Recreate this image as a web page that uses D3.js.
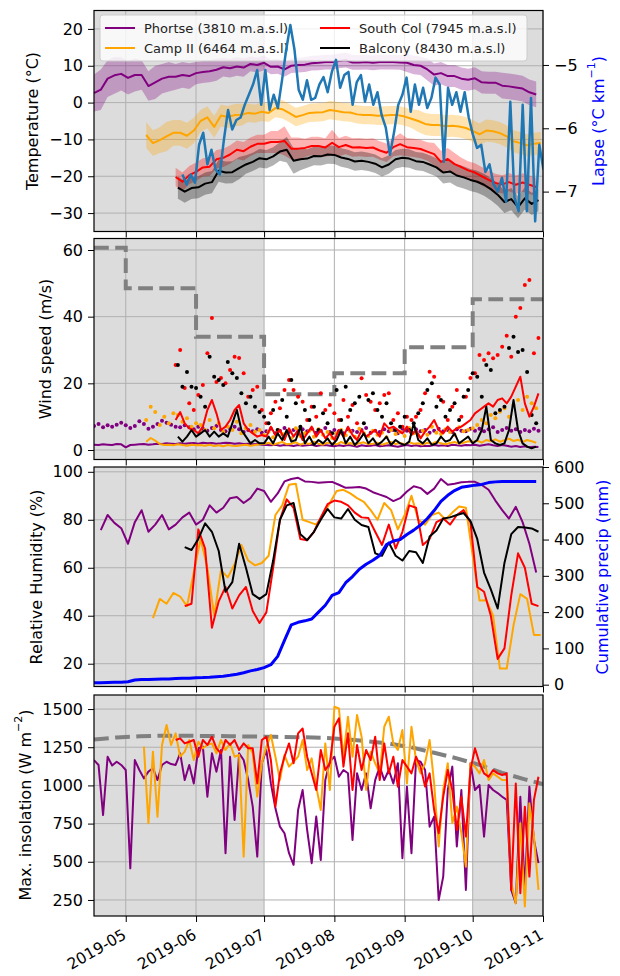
<!DOCTYPE html>
<html>
<head>
<meta charset="utf-8">
<script src="https://cdn.jsdelivr.net/npm/d3@7"></script>
<style>
  body { margin: 0; background: #fff; }
  svg { font-family: "DejaVu Sans", sans-serif; }
</style>
</head>
<body>
<svg id="chart" width="620" height="976"></svg>
<script>
// ---- time base: day offsets are counted from 2019-04-17 ----
var BASE = new Date(2019, 3, 17);
function at(day) { return new Date(BASE.getTime() + day * 864e5); }

var monthTicks = [new Date(2019,4,1), new Date(2019,5,1), new Date(2019,6,1), new Date(2019,7,1),
                  new Date(2019,8,1), new Date(2019,9,1), new Date(2019,10,1)];
var monthLabels = ["2019-05", "2019-06", "2019-07", "2019-08", "2019-09", "2019-10", "2019-11"];
var shadeSpans = [[at(0), new Date(2019,6,1)], [new Date(2019,9,1), new Date(2019,10,1)]];

var stations = ["Phortse (3810 m.a.s.l)", "Camp II (6464 m.a.s.l)", "South Col (7945 m.a.s.l)", "Balcony (8430 m.a.s.l)"];
var stationColors = ["#800080", "#ffa500", "#ff0000", "#000000"];

// ---- panel 1: daily mean temperature (every 3 days) and spread ----
var tempPhortse = [2.6,3.5,6.5,7.4,7.8,6.7,7.5,7.5,4.5,5.5, 6.5,7.0,7.0,7.5,7.2,8.0,8.3,8.5,8.9,9.6,
  9.3,9.8,9.5,10.5,10.2,10.8,9.7,9.8,9.0,10.0, 10.2,10.3,10.7,10.8,11.0,11.0,11.3,11.5,10.9,10.9,
  11.0,10.8,11.0,11.0,11.0,10.9,10.8,10.2,10.0,9.0, 7.6,8.0,7.2,7.2,6.5,6.2,6.6,5.5,5.4,5.4, 4.6,4.4,4.1,3.8,2.8,2.2];
var sprPhortse = [5,5.5,5,5,4.5,4.5,4.5, 4,4,4.5,4,4,3.5,3.5,3.5,3,3,3,3,2.5,2.5,
  2.5,2.5,2,2,2,2,2,2,2,2,2,2,2,2,2,2,2,2,2,2,2,2,2,2,2,2.5,2.5,
  2.5,3,3,3,3,3,3,3,3,3,3,3,3.5,3.5,3.5,3.5,3.5,3.5];
var tempCamp2 = [-8.8,-11.0,-10.2,-9.2,-8.2,-8.2,-9.0,-7.6,-5.0,-4.0, -6.6,-3.5,-3.9,-3.4,-3.3,-2.8,-3.0,-2.5,-2.8,-1.5,
  -1.8,-2.8,-3.9,-3.4,-2.8,-2.7,-2.6,-2.0,-2.3,-2.6, -2.7,-3.2,-3.4,-3.4,-3.6,-3.5,-3.4,-3.4,-3.8,-4.4,
  -5.0,-5.8,-6.1,-6.1,-6.4,-6.3,-6.5,-6.9,-7.7,-8.6, -7.6,-7.8,-8.3,-9.2,-10.5,-11.0,-11.6,-11.2,-11.0];
var sprCamp2 = [3.5,3.5,3.5,4,3.5,3.5,3.5,3.5,3,3, 3,3,3,3,3,2.5,2.5,2.5,2.5,2.5,
  2.5,2.5,2.5,2.5,2.5,2.5,2.5,2.5,2.5,2.5, 2.5,2.5,2.5,2.5,2.5,2.5,2.5,2.5,2.5,2.5,
  3,3,3,3,3,3,3,3,3,3, 3,3,3,3,3,3,3,3,3];
var tempSouthCol = [-20.2,-21.5,-19.7,-18.8,-17.6,-17.4,-15.4,-15.0,-14.1,-12.8, -13.2,-12.0,-11.2,-11.2,-10.7,-10.7,-10.4,-12.5,-12.5,-12.3,
  -11.8,-11.8,-12.2,-10.9,-12.1,-11.5,-12.2,-12.1,-12.3,-12.2, -13.0,-13.6,-12.1,-11.3,-12.1,-12.3,-12.6,-13.3,-14.0,-16.1,
  -15.3,-16.7,-17.5,-18.4,-19.0,-20.0,-21.0,-21.8,-22.2,-21.6, -22.3,-21.7,-22.3,-22.9];
var sprSouthCol = [2.5,2.5,2.5,2.5,2.5,2.5,2.5,2.5,2.5,2.5, 2.5,2.5,2.5,2.5,3,3,4,3,3,2.5,
  2.5,2.5,2.5,3.5,2.5,2.5,2.5,2.5,2.5,2.5, 2.5,2.5,2.5,3,2.5,2.5,2.5,2.5,3,3,
  3,3,2.5,2.5,2.5,2.5,2.5,2.5,2.5,2.5, 2.5,2.5,2.5,2.5];
var tempBalcony = [-23.1,-24.2,-23.2,-23.0,-22.0,-21.6,-18.5,-19.0,-18.9,-17.8, -16.8,-16.1,-15.1,-15.4,-14.6,-13.3,-12.8,-15.8,-15.4,-15.2,
  -14.5,-14.6,-14.1,-14.2,-14.9,-15.3,-16.0,-15.8,-16.1,-16.6, -17.6,-16.8,-15.4,-15.0,-15.2,-15.9,-16.1,-16.8,-17.6,-19.0,
  -18.7,-19.8,-20.3,-21.0,-21.5,-22.3,-23.5,-25.0,-27.0,-26.2, -28.4,-26.0,-27.5,-26.5];
var sprBalcony = [3,3,3,3,3,3,3,3,3,3, 2.5,2.5,2.5,2.5,2.5,2.5,3.5,3.5,3,2.5,
  2.5,2.5,2.5,2.5,2.5,2.5,2.5,2.5,2.5,2.5, 2.5,2.5,2.5,2.5,2.5,2.5,2.5,2.5,2.5,3,
  3,3,3,3,3,3,3,3,3,3, 3,3,3,3];
var tempStart = [0, 23, 36, 37];

// lapse rate (°C/km), starts day 39, every 1.83 days
var lapse = [-6.73,-6.89,-6.73,-6.86,-6.26,-6.07,-6.57,-6.34,-6.65,-6.73, -6.18,-5.71,-6.02,-5.87,-5.83,-5.63,-5.47,-5.31,-5.08,-5.63,
  -5.08,-5.71,-5.47,-5.68,-5.24,-4.76,-4.37,-4.76,-5.39,-5.55, -5.24,-5.55,-5.52,-5.31,-5.19,-5.43,-5.11,-4.92,-5.36,-5.16,
  -5.11,-5.63,-5.27,-5.16,-5.58,-5.31,-5.63,-5.43,-5.79,-5.99, -6.42,-6.06,-5.63,-5.47,-5.20,-5.74,-5.31,-5.63,-5.36,-5.68,
  -5.52,-5.20,-5.31,-6.53,-5.36,-5.63,-5.43,-5.74,-5.43,-5.83, -6.10,-6.31,-6.26,-6.69,-6.57,-6.89,-7.00,-6.78,-7.16,-5.58,
  -7.09,-7.31,-5.63,-7.31,-5.52,-7.47,-6.26,-6.65];

// ---- panel 2: wind speed (every 2 days) ----
var windClimDates = [at(0), new Date(2019,4,1), new Date(2019,5,1), new Date(2019,6,1), new Date(2019,7,1),
                     new Date(2019,8,1), new Date(2019,9,1), new Date(2019,10,1)];
var windClim = [60.7, 48.5, 34, 16.7, 23, 30.8, 45.2, 45.2];
var gustPhortse = [7.2,7.8,6.8,7.4,7.0,7.6,8.2,7.4,6.6,7.2, 8.6,7.8,6.4,7.0,7.8,8.8,8.2,7.6,7.0,6.8, 7.4,
  6.8,6.2,7.0,6.4,5.8,6.6,7.2,6.0,5.6, 6.4,7.0,6.2,5.4,6.0,5.6,6.2,5.2,
  5.6,6.4,5.0,5.8,6.6,5.4,6.0,4.8,6.2,5.6, 6.4,5.2,5.8,6.6,5.4,6.0,5.6,5.0,6.2,5.8,
  5.4,6.0,6.6,5.2,5.8,5.4,6.2,5.6,6.0,5.0, 6.4,5.8,5.4,6.2,5.6,6.0,5.2,5.8,6.4,5.6,
  6.0,5.4,6.2,5.8,5.6,6.4,
  5.8,6.4,5.6,6.2,6.8,5.4,6.0,6.6,5.8,6.2,5.4,6.0,5.6,6.4,5.8];
var gustCamp2 = [9.0,13.0,11.4,7.5,10.0,8.0,11.0,10.5,8.5,9.5, 7.0,8.0,7.5,6.0,9.0,6.5,8.0,5.5,7.0,6.0,
  8.5,5.0,6.5,7.5,5.5,6.0,4.5,5.5,3.8,6.0, 4.8,5.2,3.5,6.5,4.2,5.0,5.8,4.0,6.2,4.6,
  5.4,3.6,5.0,6.0,4.4,5.6,4.0,6.4,5.0,4.2, 5.8,4.6,5.2,3.8,6.0,4.8,5.4,4.2,6.6,5.0,
  4.4,5.8,4.6,7.0,5.2,4.8,6.2,5.4,4.6,6.8, 5.6,6.0,6.5,7.5,9.0,8.0,10.5,9.5,11.5,12.5,
  10.0,13.5,15.0,12.0,16.0,14.0,12.5];
var gustSouthCol = [25.5,30,18.6,14,12,16.5,19.5,29,39.6,20.4, 21.6,20,24,28,27.6,23,16,18,19,12,
  8,11,14.5,12.5,18,21,18,16,14.5,9, 13,10,17,12,13.5,11,9,15,10,13.5,
  8,21.5,16.5,14.5,12,14,16.5,17,9,11, 7,10,9,10,12,17,23.5,22,16,14.5,
  9,13,18,10,16,21.6,23,28.5,27,29, 27.5,28.5,31,34.3,28,40,42.6,49.5,51,29, 33.6];
var gustBalcony = [25.5,19,23.4,19,18.6,16,13,28,22,21, 19.5,26.4,23,21.6,17,14,16,13,11.4,10,
  8,12,6,15,10,21,14,7,12,9, 13,6,11,8,5,18,9,19,12,14,
  16,8,15,17,12,10,14,8,6,7, 10,6,8,11,14,18,20,13,15,10,
  12,14,9,16,18,23,22,16,25.5,24, 11,12,13,30.6,34,29.4,30,23.4,10.5,8];
var windPhortse = [1.6,1.5,1.7,1.6,1.5,1.8,1.7,0.8,1.5,1.6, 1.7,1.8,1.6,1.7,1.9,1.8,2.0,1.9,1.8,2.0,
  1.9,2.0,2.1,1.9,2.2,2.0,2.1,1.9,2.0,2.2, 2.1,1.9,2.0,1.8,1.9,1.7,1.8,1.6,1.5,1.4,
  1.6,1.3,1.5,1.4,1.2,1.5,1.3,1.4,1.6,1.2, 1.4,1.5,1.3,1.1,1.4,1.2,1.5,1.3,1.0,1.4,
  1.2,1.3,1.5,1.1,1.3,1.4,1.2,1.0,1.3,1.5, 1.2,1.4,1.1,1.3,1.2,1.5,1.3,1.4,1.2,1.6,
  1.4,1.3,1.5,1.4,1.6,1.3,1.5,1.7,1.4,1.2, 1.5,1.3,1.0,1.2,0.9,1.1,0.8,1.0,0.9];
var windCamp2 = [2.5,3.6,2.8,1.8,1.5,1.6,1.4,1.7,1.5,1.3, 1.6,1.4,1.5,1.3,1.6,1.2,1.4,1.1,1.5,1.3,
  1.2,1.4,1.6,1.3,1.5,1.7,1.8,2.2,1.6,2.0, 2.4,1.7,1.9,2.3,1.6,2.1,1.8,2.5,1.9,1.6,
  2.2,2.0,1.7,2.4,1.8,2.1,1.5,2.0,2.3,1.7, 1.9,2.2,1.6,2.0,2.4,1.8,2.1,1.7,2.3,1.9,
  2.0,1.6,2.2,1.8,2.5,2.0,1.7,2.1,2.4,1.9, 2.2,2.6,2.4,2.8,2.2,3.0,2.6,3.2,2.5,2.9,
  3.4,2.7,3.1,2.4,3.0,2.6,2.2];
var windSouthCol = [9,11.4,8,6.5,6,5,7,12,15,11, 6,7,9,12,13.5,8,6,5,4,4.5,
  4,7,4.5,6,3,6.5,4,6,3,5, 7,4,6,3.5,5,3,6,4,7,4.5,
  3,6,4,5,6,4,8,6.5,7,6, 5,7,4.5,6,3.5,5.5,7,9,6,5,
  7,5.5,6.5,7,8,9,11,12,13,14, 13,15,15.5,14,16,19,22,14,10,13, 17];
var windBalcony = [4,2.5,4,6,4,5,6,4,5.5,4, 5,4,8,12,6,4,2,3,2,2,
  4,2,5,3,6,2.5,3,7,2,4, 1.5,3,2,3.5,1.5,3,6,2,4,1.5,
  3,5,2,3.5,1.5,2.5,4,1.5,3,2, 1.5,2.5,8,3,2,3.5,1.5,2,4,2.5,
  3,5,2,3,4,2,3,6,13,3, 2,1.5,2,6,15,6,2,1,0.5,1];
var windStart = [0, 23, 36, 37];

// ---- panel 3: relative humidity (every 3 days) and cumulative precipitation ----
var rhPhortse = [75.7,82,78.7,76.5,70,79,84,75,78,82, 76,78,81,83,78,80,86,83,85,89,
  89.5,87,89,93,92,87.5,91,96,97,97.5, 96,95.8,95.4,95.6,95.8,94.6,93.3,93.5,93.7,93,
  91.5,90.5,89.5,87.8,89,91.8,94,93.2,90.8,93, 97,94.6,95,95.6,95.8,95.8,94.5,92.5,88,84, 80.5,85.4,79,70,58];
var rhCamp2 = [39,47,45,49.5,48,44,58,72,60,40, 59,56,61.5,69.5,63,61,62,65,82,86,
  94.6,95,80,79,78,82,87,92,92.5,91, 89,87.5,84,80,87,84,76,82,90,80,
  78,82,83,80,83,85.5,85,65,46.4,46.5, 40,18,18,36,49,47,32,32];
var rhSouthCol = [44,45,76,68,35,46,52,43,48.5,52, 42,37,41.4,60,80,88.5,85,72,71.5,75,
  81,86.5,88,87.5,86,83,81,80.7,75,69.5, 78,68,75,86,85,69.5,72,79,80.5,78,
  82,84,79,52,50,40,22,26.4,48.5,66, 60,45,44];
var rhBalcony = [68.6,67.4,72,78.5,75,67,50,54,70,60, 49,47,49,63,80,86,87,74,71.5,75,
  80,84.5,81,80.5,84.5,80,77.8,77,66,65, 70.5,65,63,67,66.5,62,73,75.5,80.5,81,
  82,82.8,79.5,72,58,51,43,62,74,77, 76.8,76.4,75];
var rhStart = [3, 26, 40, 40];
var precipCum = [5,5.5,6,6.5,7,8,13,14,14.5,15, 15.5,16,17,17.5,18,19,19.5,20.5,22,23.5,
  26,29,33,38,42,47,55,78,122,165, 172,176,181,200,219,246,254,281,298,318,
  332,343,356,386,396,400,414,426,440,458, 480,505,522,535,544,547,550,552,557,559, 560,560,560,560,560,560];

// ---- panel 4: daily maximum insolation (every 2 days) ----
var clearSky = [1300,1314,1322,1325,1325,1324,1322,1320,1318,1316,1312,1304,1290,1275,1249,1214,1177,1134,1082,1040,1000];
var insPhortse = [1166,1134,806,1188,1130,1155,1134,1101,457,1166, 1101,1046,1090,1112,1035,1134,1155,1140,1134,1210,
  1035,1134,1013,1243,1254,926,1210,1090,1232,556, 1188,774,1210,1166,1035,861,534,1145,1232,1013,
  850,730,687,556,480,839,970,708,491,796, 512,1035,1155,1188,1057,1101,1080,643,1079,970,
  1079,850,1035,1123,1035,1101,1013,1145,523,992, 556,1166,1155,1101,730,796,250,403,970,1123,
  600,970,316,1145,970,1003,665,1003,970,950, 926,905,316,229,926,316,992,643,491];
var insCamp2 = [1254,752,1221,795,1265,1395,1265,1341,1188,1221, 1297,1166,1286,1243,1265,1275,1210,1297,1232,1275,
  1188,1200,534,1265,1210,926,1145,1254,1330,1188, 1035,1199,1123,1155,1188,1297,1101,1177,992,839,
  1275,970,1515,1504,1188,1450,1188,1461,1319,970, 1221,1145,1079,1384,1450,1275,1232,1363,1013,1384,
  1166,1079,1145,1297,1013,600,970,1145,752,861, 687,468,1145,1123,1079,1166,1035,1079,1057,1035,
  1035,359,229,752,207,883,665,316];
var insSouthCol = [1297,1308,1275,1286,1297,1188,1297,1265,1319,1243, 1210,1297,1265,1297,1232,1275,1243,1243,1013,1297,
  1319,1166,861,1079,1188,1275,1145,1341,1373,1188, 1079,970,1232,1101,1145,1384,1439,1123,1341,970,
  1265,1101,1232,1166,1319,1035,1275,1079,1188,992, 1166,1123,1079,1188,1123,992,1079,839,687,926,
  1101,970,708,926,665,1101,1243,1145,1079,1057, 1101,1079,1068,1079,316,1013,294,861,403,905, 1057];
var insStart = [0, 22, 36];

function series(start, step, vals, spread) {
  return vals.map(function(v, i) {
    return {t: new Date(BASE.getTime() + Math.round((start + i * step) * 24) * 36e5), v: v, s: spread ? spread[i] : 0};
  });
}

// ---- layout ----
var svg = d3.select("#chart");
var X0 = 94, X1 = 543;
var x = d3.scaleTime().domain([at(0), new Date(2019,10,1)]).range([X0, X1]);
var FONT = 16;

var P = [
  {top: 10.5, bottom: 231.5},
  {top: 238.5, bottom: 459.5},
  {top: 467, bottom: 686.5},
  {top: 695, bottom: 916}
];
var yT = d3.scaleLinear().domain([-35, 25]).range([P[0].bottom, P[0].top]);
var yL = d3.scaleLinear().domain([-7.63, -4.14]).range([P[0].bottom, P[0].top]);
var yW = d3.scaleLinear().domain([-2.85, 63.45]).range([P[1].bottom, P[1].top]);
var yRH = d3.scaleLinear().domain([10.5, 102]).range([P[2].bottom, P[2].top]);
var yPr = d3.scaleLinear().domain([-5, 600]).range([P[2].bottom, P[2].top]);
var yI = d3.scaleLinear().domain([145, 1592]).range([P[3].bottom, P[3].top]);

function makePanel(k, y, yTicks) {
  var p = P[k];
  var id = "clip" + k;
  svg.append("clipPath").attr("id", id).append("rect")
    .attr("x", X0).attr("y", p.top).attr("width", X1 - X0).attr("height", p.bottom - p.top);
  var g = svg.append("g");
  g.selectAll(null).data(shadeSpans).join("rect")
    .attr("x", function(d) { return x(d[0]); })
    .attr("width", function(d) { return x(d[1]) - x(d[0]); })
    .attr("y", p.top).attr("height", p.bottom - p.top).attr("fill", "#dcdcdc");
  g.selectAll(null).data(monthTicks).join("line")
    .attr("x1", function(d) { return x(d); }).attr("x2", function(d) { return x(d); })
    .attr("y1", p.top).attr("y2", p.bottom).attr("stroke", "#b0b0b0").attr("stroke-width", 1);
  g.selectAll(null).data(yTicks).join("line")
    .attr("x1", X0).attr("x2", X1)
    .attr("y1", function(d) { return y(d); }).attr("y2", function(d) { return y(d); })
    .attr("stroke", "#b0b0b0").attr("stroke-width", 1);
  var plot = g.append("g").attr("clip-path", "url(#" + id + ")");
  return plot;
}

function styleAxis(sel) {
  sel.attr("font-size", FONT).attr("font-family", "DejaVu Sans, sans-serif");
  sel.select(".domain").remove();
  sel.selectAll(".tick line").attr("stroke", "#000");
  sel.selectAll(".tick text").attr("fill", "#000");
}

function finishPanel(k, y, yTicks, yRight, rTicks) {
  var p = P[k];
  svg.append("g").attr("transform", "translate(" + X0 + ",0)")
    .call(d3.axisLeft(y).tickValues(yTicks).tickSize(6).tickPadding(5).tickFormat(d3.format("d")))
    .call(styleAxis);
  if (yRight) {
    svg.append("g").attr("transform", "translate(" + X1 + ",0)")
      .call(d3.axisRight(yRight).tickValues(rTicks).tickSize(6).tickPadding(5).tickFormat(d3.format("d")))
      .call(styleAxis);
  }
  svg.append("g").attr("transform", "translate(0," + p.bottom + ")")
    .call(d3.axisBottom(x).tickValues(monthTicks).tickSize(6).tickFormat(""))
    .call(styleAxis);
  svg.append("rect").attr("x", X0).attr("y", p.top).attr("width", X1 - X0).attr("height", p.bottom - p.top)
    .attr("fill", "none").attr("stroke", "#000").attr("stroke-width", 1.2);
}

function yLabel(cx, cy, parts, color) {
  var t = svg.append("text")
    .attr("transform", "translate(" + cx + "," + cy + ") rotate(-90)")
    .attr("text-anchor", "middle").attr("dominant-baseline", "central")
    .attr("font-size", FONT).attr("fill", color || "#000");
  parts.forEach(function(pt) {
    var s = t.append("tspan").text(pt[0]);
    if (pt[1]) s.attr("baseline-shift", "super").attr("font-size", 11);
  });
}

function drawLine(g, data, y, color, width) {
  return g.append("path").datum(data)
    .attr("fill", "none").attr("stroke", color).attr("stroke-width", width)
    .attr("stroke-linejoin", "round")
    .attr("d", d3.line().x(function(d) { return x(d.t); }).y(function(d) { return y(d.v); }));
}

// ---- panel 1 ----
var t1 = [20, 10, 0, -10, -20, -30];
var g1 = makePanel(0, yT, t1);
var temps = [
  series(tempStart[0], 3, tempPhortse, sprPhortse),
  series(tempStart[1], 3, tempCamp2, sprCamp2),
  series(tempStart[2], 3, tempSouthCol, sprSouthCol),
  series(tempStart[3], 3, tempBalcony, sprBalcony)
];
temps.forEach(function(s, i) {
  g1.append("path").datum(s)
    .attr("fill", stationColors[i]).attr("fill-opacity", 0.3)
    .attr("d", d3.area().x(function(d) { return x(d.t); })
      .y0(function(d) { return yT(d.v - d.s); }).y1(function(d) { return yT(d.v + d.s); }));
});
temps.forEach(function(s, i) { drawLine(g1, s, yT, stationColors[i], 2); });

// legend (two columns)
var leg = svg.append("g");
leg.append("rect").attr("x", 100).attr("y", 15).attr("width", 427).attr("height", 46).attr("rx", 3)
  .attr("fill", "#fff").attr("fill-opacity", 0.8).attr("stroke", "#ccc");
stations.forEach(function(name, i) {
  var cx = i < 2 ? 105 : 320, cy = i % 2 === 0 ? 28 : 48;
  leg.append("line").attr("x1", cx).attr("x2", cx + 30).attr("y1", cy).attr("y2", cy)
    .attr("stroke", stationColors[i]).attr("stroke-width", 2);
  leg.append("text").attr("x", cx + 39).attr("y", cy).attr("dominant-baseline", "central")
    .attr("font-size", 13).attr("fill", "#222").text(name);
});
var g1b = svg.append("g").attr("clip-path", "url(#clip0)");
drawLine(g1b, series(39, 1.83, lapse), yL, "#1f77b4", 2.5);
finishPanel(0, yT, t1, yL, [-5, -6, -7]);
yLabel(32, 121, [["Temperature (°C)"]]);
yLabel(598, 121, [["Lapse (°C km"], ["−1", true], [")"]], "#0000ff");

// ---- panel 2 ----
var t2 = [0, 20, 40, 60];
var g2 = makePanel(1, yW, t2);
g2.append("path").datum(windClimDates.map(function(d, i) { return {t: d, v: windClim[i]}; }))
  .attr("fill", "none").attr("stroke", "#808080").attr("stroke-width", 4).attr("stroke-dasharray", "14.8,6.4")
  .attr("d", d3.line().curve(d3.curveStepAfter).x(function(d) { return x(d.t); }).y(function(d) { return yW(d.v); }));
[gustPhortse, gustCamp2, gustSouthCol, gustBalcony].forEach(function(vals, i) {
  g2.selectAll(null).data(series(windStart[i], 2, vals)).join("circle")
    .attr("cx", function(d) { return x(d.t); }).attr("cy", function(d) { return yW(d.v); })
    .attr("r", 2).attr("fill", stationColors[i]);
});
[windPhortse, windCamp2, windSouthCol, windBalcony].forEach(function(vals, i) {
  drawLine(g2, series(windStart[i], 2, vals), yW, stationColors[i], 2);
});
finishPanel(1, yW, t2);
yLabel(45, 349, [["Wind speed (m/s)"]]);

// ---- panel 3 ----
var t3 = [20, 40, 60, 80, 100];
var g3 = makePanel(2, yRH, t3);
[rhPhortse, rhCamp2, rhSouthCol, rhBalcony].forEach(function(vals, i) {
  drawLine(g3, series(rhStart[i], 3, vals), yRH, stationColors[i], 2);
});
drawLine(g3, series(0, 3, precipCum), yPr, "#0000ff", 3);
finishPanel(2, yRH, t3, yPr, [0, 100, 200, 300, 400, 500, 600]);
yLabel(36, 577, [["Relative Humidity (%)"]]);
yLabel(602, 577, [["Cumulative precip (mm)"]], "#0000ff");

// ---- panel 4 ----
var t4 = [250, 500, 750, 1000, 1250, 1500];
var g4 = makePanel(3, yI, t4);
drawLine(g4, series(0, 10, clearSky), yI, "#808080", 4).attr("stroke-dasharray", "14.8,6.4");
[insPhortse, insCamp2, insSouthCol].forEach(function(vals, i) {
  drawLine(g4, series(insStart[i], 2, vals), yI, stationColors[i], 2);
});
finishPanel(3, yI, t4);
yLabel(25, 805, [["Max. insolation (W m"], ["−2", true], [")"]]);

// rotated month labels under the last panel
svg.append("g").selectAll("text").data(monthTicks).join("text")
  .attr("transform", function(d) { return "translate(" + (x(d) - 4) + "," + 928 + ") rotate(-30)"; })
  .attr("text-anchor", "end").attr("dominant-baseline", "hanging")
  .attr("font-size", 15.5).attr("fill", "#000")
  .text(function(d, i) { return monthLabels[i]; });
</script>
</body>
</html>
